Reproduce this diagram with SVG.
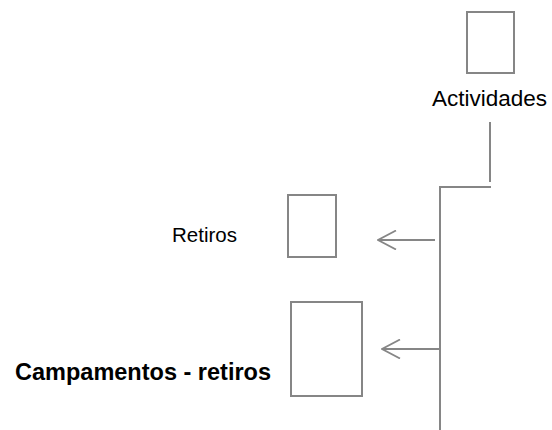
<svg xmlns="http://www.w3.org/2000/svg" width="552" height="430" viewBox="0 0 552 430">
  <style>
    .box { fill: #ffffff; stroke: #868686; stroke-width: 2; }
    .wire { fill: none; stroke: #868686; stroke-width: 2; }
    .lbl { font-family: "Liberation Sans", Arial, sans-serif; fill: #000000; }
  </style>
  <defs>
    <!-- open chevron head, tip at the end of the line -->
    <marker id="open-arrow" viewBox="0 0 20 20" refX="19" refY="10" markerWidth="20" markerHeight="20" markerUnits="userSpaceOnUse" orient="auto">
      <path d="M1,0.5 L19,10 L1,19.5" fill="none" stroke="#868686" stroke-width="1.8"/>
    </marker>
  </defs>
  <rect width="552" height="430" fill="#ffffff"/>

  <g id="actividades">
    <rect class="box" x="467" y="12" width="47" height="61"/>
    <text class="lbl" x="547" y="106" font-size="22.5" text-anchor="end">Actividades</text>
  </g>

  <g id="retiros">
    <rect class="box" x="288" y="195" width="48" height="62"/>
    <text class="lbl" x="237" y="241.5" font-size="20.5" text-anchor="end">Retiros</text>
  </g>

  <g id="campamentos">
    <rect class="box" x="291" y="302" width="71" height="94"/>
    <text class="lbl" x="271" y="380" font-size="23.5" font-weight="bold" text-anchor="end">Campamentos - retiros</text>
  </g>

  <g id="connectors">
    <line class="wire" x1="490" y1="122" x2="490" y2="182"/>
    <line class="wire" x1="440" y1="187" x2="491" y2="187"/>
    <line class="wire" x1="440" y1="186" x2="440" y2="430"/>
    <line class="wire" x1="435" y1="240" x2="378" y2="240" marker-end="url(#open-arrow)"/>
    <line class="wire" x1="440" y1="349" x2="382" y2="349" marker-end="url(#open-arrow)"/>
  </g>
</svg>
